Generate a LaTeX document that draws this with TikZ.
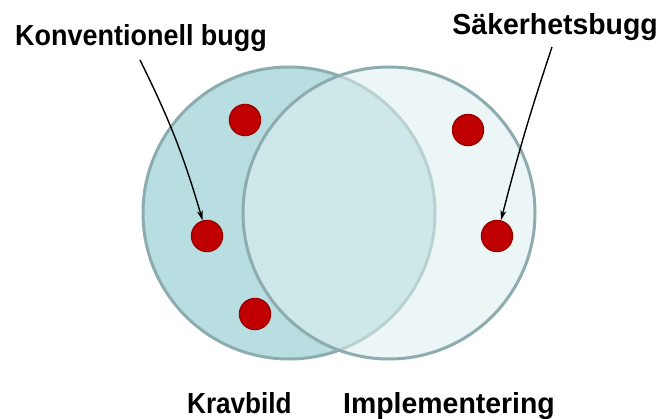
\documentclass[tikz,border=0pt]{standalone}
\usepackage{fontspec}
\setmainfont{Liberation Sans}
\usetikzlibrary{arrows.meta}
\definecolor{ringc}{RGB}{140,172,175}
\definecolor{leftc}{RGB}{185,222,226}
\definecolor{rightc}{RGB}{224,240,240}
\definecolor{bugc}{RGB}{192,0,0}
\definecolor{bugb}{RGB}{158,0,0}
\begin{document}
\begin{tikzpicture}[x=1pt,y=-1pt,
  bug/.style={circle,fill=bugc,draw=bugb,line width=1.5pt,minimum size=31pt,inner sep=0pt},
  lbl/.style={font=\bfseries\fontsize{29}{31}\selectfont,inner sep=0pt},
  ptr/.style={line width=1.4pt,-{Stealth[length=10pt,width=6pt]}},
  ring/.style={draw=ringc,line width=3pt}]
\useasboundingbox[fill=white] (0,0) rectangle (661,419);
\path[ring,fill=leftc] (289,213) circle[radius=146];
\path[ring,fill=rightc,fill opacity=0.55] (389,213) circle[radius=146];
\node[bug] (b1) at (245,120) {};
\node[bug] (b2) at (207,236) {};
\node[bug] (b3) at (255,314) {};
\node[bug] (b4) at (468,130) {};
\node[bug] (b5) at (497,236) {};
\node[lbl,anchor=base west] (l1) at (15,46) {\scalebox{0.93}[1]{Konventionell bugg}};
\node[lbl,anchor=base east] (l2) at (658,35) {\scalebox{0.98}[1]{Säkerhetsbugg}};
\node[lbl,anchor=base west] (l3) at (187,413) {\scalebox{0.9}[1]{Kravbild}};
\node[lbl,anchor=base west] (l4) at (343,413) {\scalebox{0.98}[1]{Implementering}};
\coordinate (s1) at (140,60);
\coordinate (s2) at (552,47);
\draw[ptr] (s1) to[bend left=5] (b2);
\draw[ptr] (s2) to[bend right=2] (b5);
\end{tikzpicture}
\end{document}
